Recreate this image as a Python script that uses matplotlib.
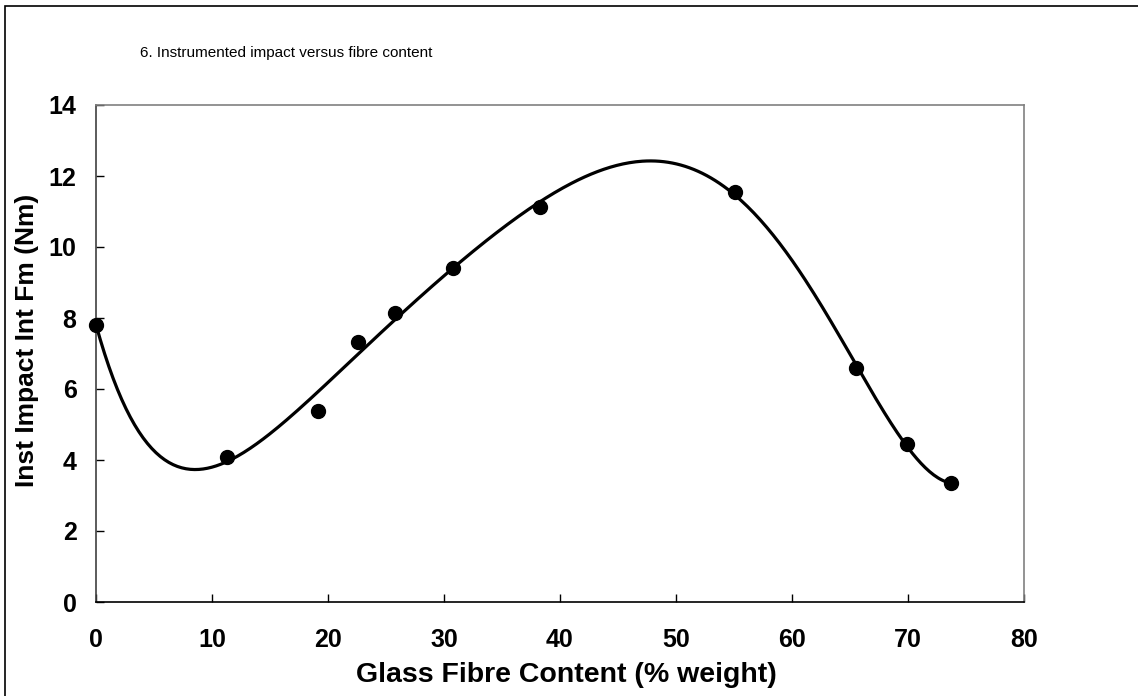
import numpy as np
import matplotlib
matplotlib.use("Agg")
import matplotlib.pyplot as plt
from matplotlib.patches import Rectangle

plt.rcParams['font.family'] = ['Liberation Sans', 'DejaVu Sans']

fibre_content = [0.0, 11.3, 19.1, 22.6, 25.8, 30.8, 38.3, 55.1, 65.5, 69.9, 73.7]
impact_fm = [7.80, 4.09, 5.39, 7.32, 8.13, 9.40, 11.14, 11.55, 6.60, 4.45, 3.34]
trend_degree = 6

x_ticks = [0, 10, 20, 30, 40, 50, 60, 70, 80]
y_ticks = [0, 2, 4, 6, 8, 10, 12, 14]

W, H = 1138, 696
fig = plt.figure(figsize=(W / 100, H / 100), dpi=100)
ax = fig.add_axes([96 / W, 1 - 602 / H, (1024 - 96) / W, (602 - 105) / H])

# outer frame (only top and left visible)
fig.patches.append(Rectangle((4.5 / W, -0.1), 1.2, 1.1 - 5.5 / H,
                             transform=fig.transFigure, fill=False,
                             edgecolor='black', linewidth=1.2))

coef = np.polyfit(fibre_content, impact_fm, trend_degree)
xs = np.linspace(min(fibre_content), max(fibre_content), 400)
ax.plot(xs, np.polyval(coef, xs), color='black', linewidth=2.3, zorder=2)
ax.plot(fibre_content, impact_fm, 'o', color='black', markersize=10, zorder=3,
        clip_on=False)

ax.set_xlim(0, 80)
ax.set_ylim(0, 14)
ax.set_xticks(x_ticks)
ax.set_yticks(y_ticks)
ax.tick_params(direction='in', length=6, width=1, labelsize=18)
ax.tick_params(axis='x', pad=19)
ax.tick_params(axis='y', pad=14)
for lbl in ax.get_xticklabels() + ax.get_yticklabels():
    lbl.set_fontweight('bold')

ax.spines['left'].set_color('#404040')
ax.spines['bottom'].set_color('black')
ax.spines['top'].set_color('#808080')
ax.spines['right'].set_color('#808080')
for s in ax.spines.values():
    s.set_linewidth(1.2)

ax.set_xlabel('Glass Fibre Content (% weight)', fontsize=20.5, fontweight='bold')
ax.xaxis.set_label_coords((566 - 96) / (1024 - 96), (602 - 675) / (602 - 105))
ax.xaxis.label.set_va('center')
ax.set_ylabel('Inst Impact Int Fm (Nm)', fontsize=19, fontweight='bold')
ax.yaxis.set_label_coords((27 - 96) / (1024 - 96), (602 - 340) / (602 - 105))
ax.yaxis.label.set_va('center')

fig.text(140 / W, 1 - 53 / H, '6. Instrumented impact versus fibre content',
         fontsize=11, ha='left', va='center')

fig.savefig('out.png', dpi=100, facecolor='white')
